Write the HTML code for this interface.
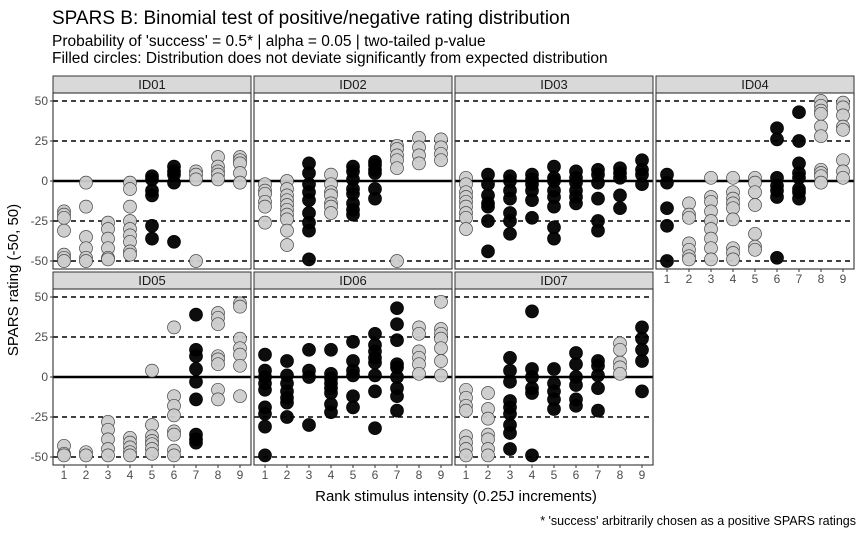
<!DOCTYPE html>
<html><head><meta charset="utf-8">
<style>
body{margin:0;background:#fff;}
svg{display:block;font-family:"Liberation Sans",sans-serif;}
</style></head>
<body>
<svg id="chart" width="864" height="537" viewBox="0 0 864 537" xmlns="http://www.w3.org/2000/svg">
<text x="52" y="24" font-size="19" fill="#000">SPARS B: Binomial test of positive/negative rating distribution</text>
<text x="52" y="46" font-size="15.5" fill="#000">Probability of 'success' = 0.5* | alpha = 0.05 | two-tailed p-value</text>
<text x="52" y="63" font-size="15.5" fill="#000">Filled circles: Distribution does not deviate significantly from expected distribution</text>
<text transform="translate(18,280) rotate(-90)" text-anchor="middle" font-size="15" fill="#000">SPARS rating (-50, 50)</text>
<text x="456" y="501" text-anchor="middle" font-size="15" fill="#000">Rank stimulus intensity (0.25J increments)</text>
<text x="856" y="525" text-anchor="end" font-size="12.5" fill="#000">* 'success' arbitrarily chosen as a positive SPARS ratings</text>
<g id="panels"></g>
</svg>
<script>
const panelIds = ["ID01","ID02","ID03","ID04","ID05","ID06","ID07"];
const xTicks = [1,2,3,4,5,6,7,8,9];
const yTicks = [50,25,0,-25,-50];
const filled = [
 [0,0,0,0,1,1,0,0,0],
 [0,0,1,0,1,1,0,0,0],
 [0,1,1,1,1,1,1,1,1],
 [1,0,0,0,0,1,1,0,0],
 [0,0,0,0,0,0,1,0,0],
 [1,1,1,1,1,1,1,0,0],
 [0,0,1,1,1,1,1,0,1]
];
const id01 = [[-19,-21,-23,-31,-46,-48,-50],[-1,-16,-35,-42,-48,-50],[-26,-30,-36,-42,-48,-49],[-1,-5,-16,-25,-30,-34,-38,-44,-46],[3,1,-6,-9,-28,-36],[9,6,4,-1,-38],[6,4,1,-50],[15,9,6,4,1],[15,13,11,5,-1]];
const id02 = [[-2,-6,-8,-13,-16,-26],[0,-5,-9,-12,-15,-18,-21,-24,-31,-40],[11,5,-2,-7,-12,-20,-26,-31,-49],[4,-2,-7,-9,-14,-16,-20],[9,6,1,-5,-8,-14,-18,-21],[12,10,7,5,-5,-11],[22,20,16,13,8,-50],[27,21,16,11],[26,21,17,13]];
const id03 = [[2,-2,-7,-10,-13,-16,-20,-23,-30],[4,-2,-9,-14,-16,-25,-44],[3,0,-6,-11,-20,-25,-33],[4,1,-2,-6,-12,-23],[9,2,0,-6,-10,-16,-29,-36],[6,2,-1,-6,-10,-14],[7,4,-1,-11,-25,-31],[8,5,2,-9,-17],[13,7,4,-2]];
const id04 = [[4,-1,-17,-28,-50],[-14,-21,-23,-39,-43,-47,-49],[2,-10,-13,-19,-25,-30,-36,-42,-49],[2,-7,-11,-14,-17,-24,-42,-45,-49],[2,-1,-7,-15,-33,-41,-43],[33,26,2,-3,-6,-10,-48],[43,25,11,5,2,-5,-7,-11],[50,47,44,42,34,28,7,5,3,-1],[49,46,41,34,32,13,6,2]];
const id05 = [[-43,-48,-49],[-47,-49],[-28,-33,-39,-45,-49],[-38,-41,-44,-47,-49],[4,-30,-37,-40,-42,-45,-48],[31,-12,-18,-24,-34,-36,-46,-49],[39,17,13,5,-3,-14,-36,-39,-41],[40,37,33,13,11,8,-8,-14],[46,44,24,18,14,7,-12]];
const id06 = [[14,4,0,-4,-8,-19,-23,-31,-49],[10,1,-4,-9,-13,-16,-25],[17,4,0,-30],[17,2,-1,-4,-7,-10,-17,-22],[22,10,4,1,-12,-19],[27,20,16,12,9,1,-9,-32],[43,33,23,8,6,0,-7,-12,-21],[31,27,16,12,8,2],[47,30,27,24,18,10,1]];
const id07 = [[-8,-13,-18,-21,-37,-41,-45,-49],[-10,-20,-26,-36,-39,-45,-49],[12,4,-3,-15,-19,-23,-30,-35,-45],[41,5,0,-7,-10,-49],[5,-4,-9,-14,-20],[15,8,0,-5,-14,-18],[10,7,1,-7,-21],[21,17,9,6,2],[31,24,17,10,-9]];
const ratings = [id01,id02,id03,id04,id05,id06,id07];

const NS="http://www.w3.org/2000/svg";
const root=document.getElementById('panels');
const PW=198, PH=176, lefts=[53,254,455,656], tops=[93,289];
function mk(tag,attrs,parent){const e=document.createElementNS(NS,tag);for(const k in attrs)e.setAttribute(k,attrs[k]);parent.appendChild(e);return e;}
panelIds.forEach((id,p)=>{
  const row=p<4?0:1, col=p<4?p:p-4;
  const x0=lefts[col], y0=tops[row];
  const xs=v=>x0+(v-0.5)/9*PW;
  const ys=v=>y0+(55-v)/110*PH;
  const g=mk('g',{},root);
  
  
  const strip=mk('rect',{x:x0,y:y0-17,width:PW,height:17,fill:'#d9d9d9',stroke:'#333','stroke-width':1},g);
  
  
  const st=mk('text',{x:x0+PW/2,y:y0-4,'text-anchor':'middle','font-size':13,fill:'#1a1a1a'},g);
  st.textContent=id;
  
  
  mk('rect',{x:x0,y:y0,width:PW,height:PH,fill:'#fff'},g);
  [50,25,-25,-50].forEach(v=>{
    const l=mk('line',{x1:x0,x2:x0+PW,y1:ys(v),y2:ys(v),stroke:'#000','stroke-width':1.4,'stroke-dasharray':'5,4'},g);
    
    
  });
  const z=mk('line',{x1:x0,x2:x0+PW,y1:ys(0),y2:ys(0),stroke:'#000','stroke-width':2.4},g);
  
  
  ratings[p].forEach((vals,i)=>{
    const blk=filled[p][i];
    vals.forEach(v=>{
      const c=mk('circle',{cx:xs(xTicks[i]),cy:ys(v),r:6.5,fill:blk?'#000':'#cccccc',stroke:blk?'#000':'#444','stroke-width':0.7,'fill-opacity':0.95},g);
      
      
    });
  });
  mk('rect',{x:x0,y:y0,width:PW,height:PH,fill:'none',stroke:'#333','stroke-width':1.1},g);
  if(col===0){
    yTicks.forEach(v=>{
      mk('line',{x1:x0-3,x2:x0,y1:ys(v),y2:ys(v),stroke:'#333'},g);
      const t=mk('text',{x:x0-5,y:ys(v)+4,'text-anchor':'end','font-size':12,fill:'#4d4d4d'},g);
      t.textContent=v;
      
      
    });
  }
  if(row===1||p===3){
    xTicks.forEach(v=>{
      mk('line',{x1:xs(v),x2:xs(v),y1:y0+PH,y2:y0+PH+3,stroke:'#333'},g);
      const t=mk('text',{x:xs(v),y:y0+PH+14,'text-anchor':'middle','font-size':12,fill:'#4d4d4d'},g);
      t.textContent=v;
      
      
    });
  }
});
</script>
</body></html>
